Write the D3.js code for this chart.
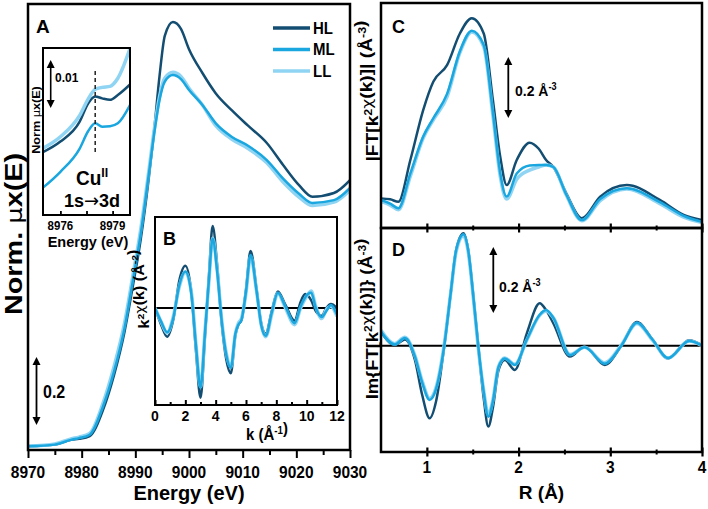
<!DOCTYPE html>
<html>
<head>
<meta charset="utf-8">
<script src="https://cdn.jsdelivr.net/npm/d3@7"></script>
<style>
	body { margin: 0; background: #fff; }
	svg text { font-family: 'Liberation Sans', Arial, sans-serif; font-weight: bold; fill: #000; }
</style>
</head>
<body>
<svg id="chart" width="708" height="509"></svg>
<script>
// ---- data ----
var seriesNames = ['HL', 'ML', 'LL'];
var seriesColors = ['#134e72', '#1aa6de', '#8fd4f3'];

// A: normalized Cu K-edge XANES
var energy = [8970, 8975, 8978, 8979.5, 8981.5, 8984, 8986, 8988, 8989.5, 8991, 8992.5, 8993.5, 8994.5, 8995.5, 8997, 8998.5, 9000, 9002.5, 9005, 9008, 9011, 9014.5, 9017.5, 9020.5, 9023, 9027, 9030];
var xanesHL = [0.002, 0.007, 0.021, 0.024, 0.032, 0.11, 0.21, 0.34, 0.47, 0.61, 0.79, 0.93, 1.09, 1.21, 1.25, 1.23, 1.17, 1.10, 1.04, 0.99, 0.945, 0.894, 0.83, 0.77, 0.736, 0.747, 0.785];
var xanesML = [0.002, 0.007, 0.021, 0.026, 0.036, 0.12, 0.22, 0.35, 0.485, 0.625, 0.8, 0.92, 1.02, 1.075, 1.094, 1.082, 1.05, 1.006, 0.952, 0.912, 0.886, 0.844, 0.79, 0.745, 0.718, 0.726, 0.762];
var xanesLL = [0.003, 0.009, 0.024, 0.029, 0.04, 0.13, 0.235, 0.365, 0.5, 0.64, 0.81, 0.93, 1.03, 1.085, 1.102, 1.09, 1.055, 1.006, 0.945, 0.905, 0.878, 0.836, 0.78, 0.735, 0.71, 0.72, 0.756];
var energyTicks = [8970, 8980, 8990, 9000, 9010, 9020, 9030];
var energyMinor = [8975, 8985, 8995, 9005, 9015, 9025];

// A inset: pre-edge 1s->3d
var energyInset = [8975, 8976, 8977.1, 8977.6, 8978, 8978.4, 8978.85, 8979.3, 8980];
var preHL = [0.0131, 0.0153, 0.0194, 0.0233, 0.0247, 0.0243, 0.0240, 0.0250, 0.0272];
var preML = [0.0057, 0.0090, 0.0138, 0.0175, 0.0191, 0.0184, 0.0185, 0.0191, 0.0229];
var preLL = [0.0139, 0.0163, 0.0207, 0.0242, 0.0262, 0.0266, 0.0268, 0.0285, 0.0347];
var insetTicks = [8976, 8979];
var insetMinor = [8977.5];

// B: k^2-weighted EXAFS
var kValues = [0, 0.4, 0.8, 1.2, 1.6, 2.0, 2.4, 2.7, 3.0, 3.3, 3.55, 3.8, 4.1, 4.4, 4.7, 5.0, 5.3, 5.5, 5.7, 6.0, 6.3, 6.7, 7.0, 7.3, 7.7, 8.1, 8.6, 9.2, 9.6, 9.9, 10.3, 10.6, 11.0, 11.3, 11.6, 12.0];
var chiHL = [0, -0.55, -0.95, -0.4, 0.9, 1.39, 0.5, -1.4, -2.96, -0.9, 1.0, 2.7, 1.4, -0.5, -1.7, -2.15, -0.9, -0.55, -0.4, 0.6, 1.88, 0.6, -0.5, -0.85, -0.1, 0.54, 0.1, -0.42, 0.2, 0.46, 0.25, -0.1, -0.26, 0.0, 0.13, 0.0];
var chiML = [0, -0.45, -0.8, -0.35, 0.75, 1.2, 0.45, -1.25, -2.63, -0.8, 0.9, 2.28, 1.2, -0.45, -1.55, -1.97, -0.85, -0.55, -0.4, 0.55, 1.75, 0.55, -0.55, -0.92, -0.15, 0.5, 0.05, -0.5, 0.05, 0.35, 0.5, 0.0, -0.3, -0.1, 0.1, -0.22];
var chiLL = [0, -0.45, -0.82, -0.3, 0.7, 1.18, 0.5, -1.2, -2.6, -0.75, 0.85, 2.3, 1.25, -0.4, -1.5, -1.95, -0.85, -0.5, -0.35, 0.5, 1.7, 0.55, -0.55, -0.95, -0.2, 0.48, 0.0, -0.55, 0.0, 0.3, 0.56, 0.05, -0.35, -0.05, 0.05, -0.28];
var kTicks = [0, 2, 4, 6, 8, 10, 12];
var kMinor = [1, 3, 5, 7, 9, 11];

// C: |FT|
var rMag = [0.5, 0.6, 0.69, 0.82, 0.96, 1.07, 1.22, 1.36, 1.49, 1.62, 1.72, 1.80, 1.87, 1.98, 2.12, 2.22, 2.30, 2.38, 2.52, 2.69, 2.89, 3.18, 3.54, 3.80, 4.0];
var magHL = [0.097, 0.094, 0.086, 0.223, 0.387, 0.48, 0.534, 0.638, 0.688, 0.638, 0.42, 0.234, 0.141, 0.223, 0.28, 0.26, 0.223, 0.20, 0.114, 0.032, 0.103, 0.141, 0.092, 0.043, 0.026];
var magML = [0.092, 0.08, 0.065, 0.179, 0.30, 0.36, 0.44, 0.58, 0.647, 0.60, 0.38, 0.18, 0.103, 0.179, 0.205, 0.207, 0.207, 0.20, 0.11, 0.026, 0.095, 0.13, 0.085, 0.04, 0.02];
var magLL = [0.087, 0.075, 0.06, 0.17, 0.295, 0.355, 0.43, 0.575, 0.643, 0.595, 0.37, 0.17, 0.095, 0.16, 0.19, 0.2, 0.207, 0.2, 0.108, 0.024, 0.09, 0.128, 0.08, 0.036, 0.018];

// D: Im(FT)
var rIm = [0.5, 0.65, 0.76, 0.87, 0.95, 1.03, 1.1, 1.19, 1.26, 1.32, 1.40, 1.45, 1.51, 1.56, 1.62, 1.67, 1.72, 1.78, 1.85, 1.96, 2.09, 2.23, 2.30, 2.38, 2.56, 2.72, 2.94, 3.12, 3.29, 3.46, 3.63, 3.86, 4.0];
var imHL = [0.045, 0.002, 0.02, -0.046, -0.16, -0.234, -0.18, 0.0, 0.17, 0.31, 0.363, 0.31, 0.15, 0.0, -0.17, -0.261, -0.2, -0.08, -0.046, -0.078, 0.04, 0.137, 0.115, 0.072, -0.035, -0.003, -0.062, 0.0, 0.077, 0.02, -0.041, 0.018, 0.002];
var imML = [0.045, 0.004, 0.025, -0.035, -0.12, -0.175, -0.14, 0.0, 0.17, 0.31, 0.36, 0.31, 0.15, 0.0, -0.15, -0.229, -0.18, -0.07, -0.041, -0.062, 0.02, 0.10, 0.115, 0.09, -0.03, -0.005, -0.058, 0.0, 0.074, 0.02, -0.04, 0.015, 0.0];
var imLL = [0.05, 0.006, 0.027, -0.032, -0.115, -0.17, -0.135, 0.005, 0.17, 0.305, 0.355, 0.305, 0.145, -0.005, -0.145, -0.222, -0.175, -0.068, -0.04, -0.06, 0.018, 0.098, 0.112, 0.09, -0.028, -0.005, -0.055, 0.002, 0.072, 0.018, -0.04, 0.015, 0.0];
var rTicks = [1, 2, 3, 4];
var rMinor = [1.5, 2.5, 3.5];

// ---- drawing ----
var svg = d3.select('#chart');
var STRETCH = 1.1; // the figure's text is a bit taller than it is wide
var lineWidths = [2.5, 2.5, 3.5];
var drawOrder = [0, 2, 1];

svg.append('rect').attr('width', 708).attr('height', 509).attr('fill', '#fff');

var defs = svg.append('defs');

function clip(id, x0, y0, x1, y1) {
	defs.append('clipPath').attr('id', id)
		.append('rect')
		.attr('x', x0).attr('y', y0)
		.attr('width', x1 - x0).attr('height', y1 - y0);
	return 'url(#' + id + ')';
}

function label(parent, x, y, parts, size, opts) {
	opts = opts || {};
	var s = opts.stretch || STRETCH;
	var g = parent.append('g')
		.attr('transform', 'translate(' + x + ',' + y + ') scale(1,' + s + ')');
	var t = g.append('text')
		.attr('font-size', size)
		.attr('text-anchor', opts.anchor || 'start');
	if (opts.rotate) {
		t.attr('transform', 'rotate(-90)');
	}
	if (typeof parts === 'string') {
		parts = [parts];
	}
	parts.forEach(function (p) {
		if (typeof p === 'string') {
			t.append('tspan').text(p);
		} else if (p.sup) {
			t.append('tspan').attr('font-size', size * 0.65).attr('dy', -size * 0.38).text(p.sup);
			t.append('tspan').attr('dy', size * 0.38).text('');
		} else if (p.plain) {
			// greek letters and arrows set like the Symbol font of the original
			t.append('tspan')
				.attr('font-weight', 'normal')
				.style('font-family', "'DejaVu Sans', sans-serif")
				.attr('font-size', size * (p.scale || 0.9))
				.text(p.plain);
		}
	});
	return g;
}

function arrow(x, y1, y2, w) {
	var head = 8;
	svg.append('line')
		.attr('x1', x).attr('x2', x)
		.attr('y1', y1 + head - 1).attr('y2', y2 - head + 1)
		.attr('stroke', '#000').attr('stroke-width', w || 1.8);
	svg.append('path')
		.attr('d', 'M' + x + ',' + y1 + 'L' + (x - 4) + ',' + (y1 + head) + 'L' + (x + 4) + ',' + (y1 + head) + 'Z')
		.attr('fill', '#000');
	svg.append('path')
		.attr('d', 'M' + x + ',' + y2 + 'L' + (x - 4) + ',' + (y2 - head) + 'L' + (x + 4) + ',' + (y2 - head) + 'Z')
		.attr('fill', '#000');
}

function drawSeries(g, xs, ys, xScale, yScale, clipUrl) {
	var line = d3.line()
		.x(function (d) { return xScale(d[0]); })
		.y(function (d) { return yScale(d[1]); })
		.curve(d3.curveMonotoneX);
	var lines = g.append('g').attr('clip-path', clipUrl);
	drawOrder.forEach(function (i) {
		var pts = xs.map(function (x, j) { return [x, ys[i][j]]; });
		lines.append('path')
			.datum(pts)
			.attr('d', line)
			.attr('fill', 'none')
			.attr('stroke', seriesColors[i])
			.attr('stroke-width', lineWidths[i])
			.attr('stroke-linejoin', 'round');
	});
}

function ticks(y, scale, values, size, inward, cross, width) {
	var axis = (inward ? d3.axisTop(scale) : d3.axisBottom(scale))
		.tickValues(values).tickSize(size).tickFormat('');
	var g = svg.append('g').attr('transform', 'translate(0,' + y + ')').call(axis);
	if (cross) {
		g.call(function (s) {
			s.selectAll('.tick line').attr('y1', -size).attr('y2', size);
		});
	}
	g.select('.domain').remove();
	g.selectAll('line').attr('stroke-width', width || 2);
	return g;
}

function tickLabels(y, scale, values, size, baseline, stretch) {
	values.forEach(function (v) {
		label(svg, scale(v), baseline, String(v), size, { anchor: 'middle', stretch: stretch });
	});
}

function frame(x0, y0, x1, y1, w) {
	svg.append('rect')
		.attr('x', x0).attr('y', y0)
		.attr('width', x1 - x0).attr('height', y1 - y0)
		.attr('fill', 'none').attr('stroke', '#000').attr('stroke-width', w);
}

// ---- panel A ----
var xA = d3.scaleLinear().domain([8970, 9030]).range([28, 350]);
var yA = d3.scaleLinear().domain([0, 1.3]).range([447, 5]);
drawSeries(svg, energy, [xanesHL, xanesML, xanesLL], xA, yA, clip('clipA', 28, 4, 350, 450));
ticks(450, xA, energyTicks, 8, false, false, 2);
ticks(450, xA, energyMinor, 5, false, false, 2);
tickLabels(450, xA, energyTicks, 15.5, 478, 1.12);
frame(28, 4, 350, 450, 2.5);

label(svg, xA(9000), 500, 'Energy (eV)', 20, { anchor: 'middle', stretch: 1.0 });
label(svg, 22, 234, ['Norm. ', { plain: 'μ' }, 'x(E)'], 24, { anchor: 'middle', rotate: true, stretch: 1.2 });
label(svg, 36, 33, 'A', 19, { stretch: 1.0 });

// legend
seriesNames.forEach(function (name, i) {
	var ly = 28 + i * 21.5;
	svg.append('line')
		.attr('x1', 273).attr('x2', 310)
		.attr('y1', ly).attr('y2', ly)
		.attr('stroke', seriesColors[i])
		.attr('stroke-width', 3.5);
	label(svg, 313, ly + 5.5, name, 15);
});

arrow(36.5, 357, 425, 1.8);
label(svg, 43, 398, '0.2', 16);

// ---- inset of A ----
var xI = d3.scaleLinear().domain([8975, 8980]).range([43, 130]);
var yI = d3.scaleLinear().domain([0, 0.0348]).range([215, 48]);
svg.append('rect').attr('x', 43).attr('y', 48).attr('width', 87).attr('height', 167).attr('fill', '#fff');
drawSeries(svg, energyInset, [preHL, preML, preLL], xI, yI, clip('clipI', 43, 48, 130, 215));
svg.append('line')
	.attr('x1', xI(8978)).attr('x2', xI(8978))
	.attr('y1', 71).attr('y2', 153)
	.attr('stroke', '#222').attr('stroke-width', 1.5)
	.attr('stroke-dasharray', '4,3');
ticks(215, xI, insetTicks.concat(insetMinor), 4, true, false, 1.8);
tickLabels(215, xI, insetTicks, 11.5, 229.5, 1.05);
frame(43, 48, 130, 215, 2);
label(svg, 88, 247, 'Energy (eV)', 14.5, { anchor: 'middle', stretch: 1.0 });
label(svg, 39.5, 120, ['Norm ', { plain: 'μ' }, 'x(E)'], 11, { anchor: 'middle', rotate: true, stretch: 1.15 });
arrow(50.7, 60, 108, 1.6);
label(svg, 55, 82, '0.01', 12);
label(svg, 76, 185, ['Cu', { sup: 'II' }], 19, { stretch: 1.05 });
label(svg, 92, 207, ['1s', { plain: '→', scale: 1.0 }, '3d'], 18, { anchor: 'middle', stretch: 1.05 });

// ---- panel B ----
var xB = d3.scaleLinear().domain([0, 12]).range([155, 337]);
var yB = d3.scaleLinear().domain([-3.2, 3.0]).range([405, 217]);
svg.append('rect').attr('x', 155).attr('y', 217).attr('width', 182).attr('height', 188).attr('fill', '#fff');
svg.append('line')
	.attr('x1', xB(0)).attr('x2', xB(12))
	.attr('y1', yB(0)).attr('y2', yB(0))
	.attr('stroke', '#000').attr('stroke-width', 2);
drawSeries(svg, kValues, [chiHL, chiML, chiLL], xB, yB, clip('clipB', 155, 217, 337, 405));
ticks(405, xB, kTicks, 5, true, false, 2);
ticks(405, xB, kMinor, 3, true, false, 2);
tickLabels(405, xB, kTicks, 14, 421, 1.1);
frame(155, 217, 337, 405, 2);
label(svg, 163, 245, 'B', 18, { stretch: 1.0 });
label(svg, xB(6), 440, ['k (Å', { sup: '-1' }, ')'], 15);
label(svg, 149, 289, ['k', { sup: '2' }, { plain: 'χ' }, '(k) (Å', { sup: '-2' }, ')'], 14, { anchor: 'middle', rotate: true, stretch: 1.15 });

// ---- panels C and D ----
var xR = d3.scaleLinear().domain([0.5, 4]).range([381, 702]);
var yC = d3.scaleLinear().domain([0, 0.738]).range([228, 3]);
var yD = d3.scaleLinear().domain([-0.343, 0.38]).range([452, 228]);

drawSeries(svg, rMag, [magHL, magML, magLL], xR, yC, clip('clipC', 381, 3, 702, 228));
svg.append('line')
	.attr('x1', 381).attr('x2', 702)
	.attr('y1', yD(0)).attr('y2', yD(0))
	.attr('stroke', '#000').attr('stroke-width', 2.2);
drawSeries(svg, rIm, [imHL, imML, imLL], xR, yD, clip('clipD', 381, 228, 702, 452));

ticks(228, xR, rTicks, 4.5, false, true, 2.2);
ticks(228, xR, rMinor, 2.5, false, true, 2);
ticks(452, xR, rTicks, 4.5, false, true, 2.2);
ticks(452, xR, rMinor, 2.5, false, true, 2);
tickLabels(452, xR, rTicks, 15.5, 473, 1.12);
frame(381, 3, 702, 228, 2.5);
frame(381, 228, 702, 452, 2.5);

label(svg, 392, 33, 'C', 18, { stretch: 1.0 });
label(svg, 392, 256, 'D', 18, { stretch: 1.0 });
label(svg, xR(2.25), 499, 'R (Å)', 19, { anchor: 'middle', stretch: 1.0 });
label(svg, 378, 91, ['|FT[k', { sup: '2' }, { plain: 'χ' }, '(k)]| (Å', { sup: '-3' }, ')'], 16, { anchor: 'middle', rotate: true, stretch: 1.2 });
label(svg, 378, 319, ['Im{FT[k', { sup: '2' }, { plain: 'χ' }, '(k)]} (Å', { sup: '-3' }, ')'], 16, { anchor: 'middle', rotate: true, stretch: 1.15 });

arrow(508.3, 57, 118, 1.8);
label(svg, 515, 96, ['0.2 Å', { sup: '-3' }], 14);
arrow(493.3, 247, 313, 1.8);
label(svg, 499, 292, ['0.2 Å', { sup: '-3' }], 14);
</script>
</body>
</html>
